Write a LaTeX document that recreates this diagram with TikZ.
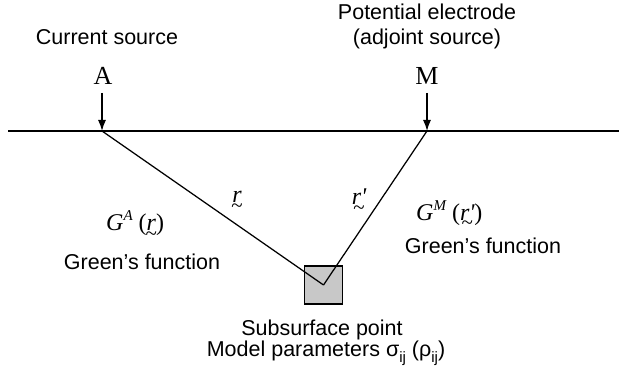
\documentclass[tikz,border=0pt]{standalone}
\usepackage{fontspec}
\setmainfont{Liberation Sans}
\newfontfamily\serfont{Liberation Serif}
\usetikzlibrary{arrows.meta}
\definecolor{boxgray}{RGB}{200,200,200}
\newcommand\utl[1]{\setbox0\hbox{#1}\rlap{\copy0}\makebox[\wd0]{\raisebox{-0.40em}[0pt][0pt]{\upshape\fontsize{21}{21}\selectfont\textasciitilde}}}
\newcommand\gfun[2]{{\serfont\itshape G\raisebox{0.42em}{\fontsize{15}{15}\selectfont #1}\ \upshape(\itshape\utl{#2}\upshape)}}
\newcommand\sbs[1]{\raisebox{-0.3em}{\fontsize{15}{15}\selectfont #1}}
\begin{document}
\begin{tikzpicture}[x=1pt,y=-1pt,
  lbl/.style={font=\fontsize{21.5}{25}\selectfont, align=center, inner sep=0pt},
  ser/.style={font=\serfont\fontsize{26}{28}\selectfont, inner sep=0pt},
  mth/.style={font=\serfont\fontsize{24}{26}\selectfont, inner sep=0pt},
  ln/.style={line width=1.25pt},
  arr/.style={line width=1.25pt, -{Latex[length=11pt,width=8pt]}}]
\useasboundingbox (0,0) rectangle (619,377);
% ground surface
\coordinate (gl) at (8,131);
\coordinate (gr) at (619,131);
\draw[ln] (gl) -- (gr);
\coordinate (pa) at (102,131);
\coordinate (pm) at (427,131);
\coordinate (ta) at (102,93);
\coordinate (tm) at (427,93);
% top labels
\node[lbl] (cs) at (107,37) {Current source};
\node[lbl] (pe) at (427,26) {Potential electrode\\(adjoint source)};
\node[ser] (A) at (103,76) {A};
\node[ser] (M) at (427,76) {M};
\draw[arr] (ta) -- (pa);
\draw[arr] (tm) -- (pm);
% subsurface point
\node[draw, fill=boxgray, line width=1.25pt, minimum size=38pt, inner sep=0pt] (sq) at (323.5,285) {};
\draw[ln] (pa) -- (sq.center);
\draw[ln] (pm) -- (sq.center);
% labels
\node[mth] (r1) at (237,197) {\itshape\utl{r}};
\node[mth] (r2) at (359,197) {\itshape\utl{r'}};
\node[mth, anchor=west] (ga) at (106,223) {\gfun{A}{r}};
\node[mth, anchor=west] (gm) at (416,213) {\gfun{M}{r'}};
\node[lbl] (gfa) at (142,262) {Green’s function};
\node[lbl] (gfm) at (483,246) {Green’s function};
\node[lbl] (sp) at (322,330) {Subsurface point};
\node[lbl] (mp) at (326,353) {Model parameters σ\sbs{ij} (ρ\sbs{ij})};
\end{tikzpicture}
\end{document}
